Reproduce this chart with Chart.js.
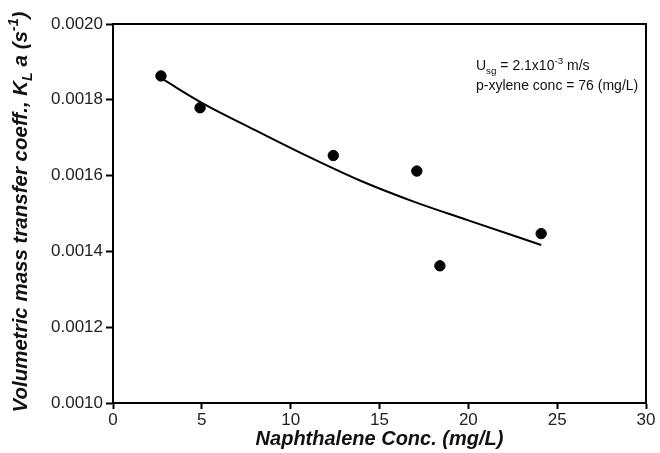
<!DOCTYPE html>
<html>
<head>
<meta charset="utf-8">
<script src="https://cdn.jsdelivr.net/npm/chart.js@4/dist/chart.umd.min.js"></script>
<style>
  html, body { margin: 0; padding: 0; background: #fff; }
  #wrap { width: 660px; height: 453px; }
</style>
</head>
<body>
<div id="wrap"><canvas id="kla"></canvas></div>
<script>
// measured points
const naphConc = [2.7, 4.9, 12.4, 17.1, 18.4, 24.1];
const klaValues = [0.001863, 0.001779, 0.001653, 0.001612, 0.001362, 0.001447];
// fitted curve
const fitConc = [2.85, 5, 8, 11, 14, 17, 20, 24.1];
const fitValues = [0.001853, 0.001792, 0.00172, 0.00165, 0.001585, 0.00153, 0.001482, 0.001417];
const xTicks = [0, 5, 10, 15, 20, 25, 30];
const yTicks = [0.0010, 0.0012, 0.0014, 0.0016, 0.0018, 0.0020];

const FONT = "'Liberation Sans', Arial, sans-serif";

// draws a run of [text, kind] pieces, kind: n normal, b sub, p super
function drawRich(ctx, parts, x, y, size, style) {
    let cx = x;
    parts.forEach(([txt, kind]) => {
        const s = kind === 'n' ? size : size * 0.7;
        const dy = kind === 'b' ? size * 0.25 : (kind === 'p' ? -size * 0.45 : 0);
        ctx.font = style + ' ' + s + 'px ' + FONT;
        ctx.fillText(txt, cx, y + dy);
        cx += ctx.measureText(txt).width;
    });
    return cx - x;
}
function richWidth(ctx, parts, size, style) {
    let w = 0;
    parts.forEach(([txt, kind]) => {
        const s = kind === 'n' ? size : size * 0.7;
        ctx.font = style + ' ' + s + 'px ' + FONT;
        w += ctx.measureText(txt).width;
    });
    return w;
}

const extras = {
    id: 'extras',
    afterDraw(chart) {
        const ctx = chart.ctx;
        const a = chart.chartArea;
        ctx.save();
        // box around the plot
        ctx.strokeStyle = '#000';
        ctx.lineWidth = 2;
        ctx.strokeRect(a.left, a.top, a.right - a.left, a.bottom - a.top);

        ctx.fillStyle = '#111';
        ctx.textBaseline = 'alphabetic';
        ctx.textAlign = 'left';
        // annotation
        drawRich(ctx, [['U', 'n'], ['sg', 'b'], [' = 2.1x10', 'n'], ['-3', 'p'], [' m/s', 'n']], 476, 70, 14, 'normal');
        drawRich(ctx, [['p-xylene conc = 76 (mg/L)', 'n']], 476, 90, 14, 'normal');

        // y title with subscript / superscript
        const yParts = [['Volumetric mass transfer coeff., K', 'n'], ['L', 'b'], [' a (s', 'n'], ['-1', 'p'], [')', 'n']];
        const w = richWidth(ctx, yParts, 20.5, 'italic bold');
        ctx.translate(27, 212);
        ctx.rotate(-Math.PI / 2);
        drawRich(ctx, yParts, -w / 2, 0, 20.5, 'italic bold');
        ctx.restore();
    }
};

new Chart(document.getElementById('kla'), {
    type: 'scatter',
    data: {
        datasets: [{
            label: 'data',
            data: naphConc.map((x, i) => ({ x: x, y: klaValues[i] })),
            backgroundColor: '#000',
            borderColor: '#000',
            pointRadius: 5.2,
            pointHoverRadius: 5.2
        }, {
            label: 'fit',
            data: fitConc.map((x, i) => ({ x: x, y: fitValues[i] })),
            showLine: true,
            borderColor: '#000',
            borderWidth: 2,
            pointRadius: 0,
            tension: 0.4,
            cubicInterpolationMode: 'monotone'
        }]
    },
    options: {
        responsive: true,
        maintainAspectRatio: false,
        animation: false,
        events: [],
        layout: { padding: { left: 0, right: 14, top: 24, bottom: 0 } },
        plugins: { legend: { display: false }, tooltip: { enabled: false } },
        scales: {
            x: {
                type: 'linear',
                min: 0, max: 30,
                afterBuildTicks: s => { s.ticks = xTicks.map(v => ({ value: v })); },
                afterFit: s => { s.height = 50; },
                grid: { drawOnChartArea: false, drawTicks: true, tickLength: 6, tickColor: '#000', tickWidth: 2 },
                border: { color: '#000', width: 2 },
                ticks: { color: '#222', padding: 1, font: { family: FONT, size: 17 } },
                title: {
                    display: true,
                    text: 'Naphthalene Conc. (mg/L)',
                    color: '#111',
                    padding: { top: 0, bottom: 2 },
                    font: { family: FONT, size: 20, weight: 'bold', style: 'italic' }
                }
            },
            y: {
                type: 'linear',
                min: 0.001, max: 0.002,
                afterBuildTicks: s => { s.ticks = yTicks.map(v => ({ value: v })); },
                afterFit: s => { s.width = 113; },
                grid: { drawOnChartArea: false, drawTicks: true, tickLength: 7, tickColor: '#000', tickWidth: 2 },
                border: { color: '#000', width: 2 },
                ticks: { color: '#222', padding: 3, font: { family: FONT, size: 17 }, callback: v => v.toFixed(4) }
            }
        }
    },
    plugins: [extras]
});
</script>
</body>
</html>
